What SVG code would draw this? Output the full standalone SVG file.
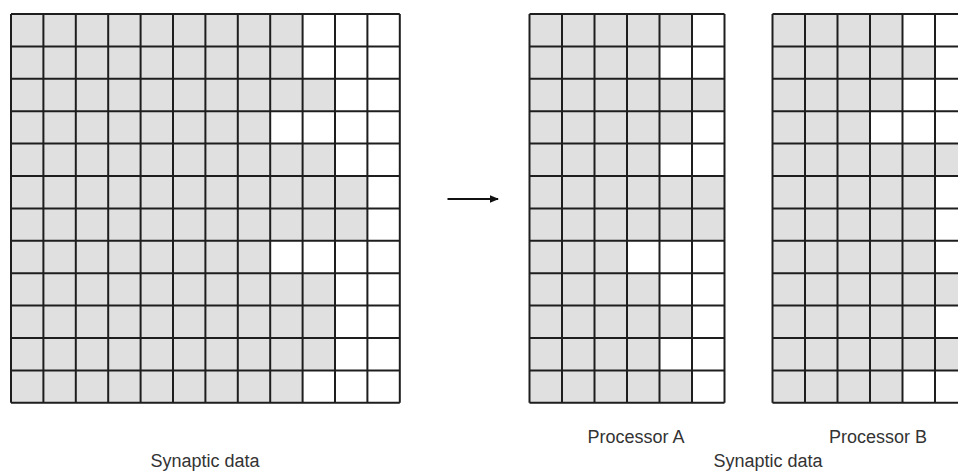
<svg xmlns="http://www.w3.org/2000/svg" width="958" height="472" viewBox="0 0 958 472">
  <style>
    .bg { fill: #ffffff; }
    .on { fill: #e0e0e0; }
    .off { fill: #ffffff; }
    .grid { fill: none; stroke: #1e1e1e; stroke-width: 2; }
    .label { font-family: "Liberation Sans", Arial, sans-serif; font-size: 18px; fill: #333333; text-anchor: middle; }
    .conn { stroke: #111111; stroke-width: 1.8; fill: none; }
  </style>
  <defs>
    <marker id="arrowhead" markerWidth="9" markerHeight="9" refX="8" refY="4.5" orient="auto" markerUnits="userSpaceOnUse">
      <path d="M0,0.8 L9,4.5 L0,8.2 Z" fill="#111111"/>
    </marker>
  </defs>

  <rect class="bg" x="0" y="0" width="958" height="472"/>

  <!-- Full synaptic matrix: 12 x 12 cells -->
  <g id="matrix-full" transform="translate(11,14)">
    <rect class="on" x="0" y="0" width="388.8" height="388.8"/>
    <rect class="off" x="291.6" y="0" width="97.2" height="64.8"/>
    <rect class="off" x="324" y="64.8" width="64.8" height="32.4"/>
    <rect class="off" x="259.2" y="97.2" width="129.6" height="32.4"/>
    <rect class="off" x="324" y="129.6" width="64.8" height="32.4"/>
    <rect class="off" x="356.4" y="162" width="32.4" height="64.8"/>
    <rect class="off" x="259.2" y="226.8" width="129.6" height="32.4"/>
    <rect class="off" x="324" y="259.2" width="64.8" height="97.2"/>
    <rect class="off" x="291.6" y="356.4" width="97.2" height="32.4"/>
    <path class="grid" d="M0,0V388.8 M32.4,0V388.8 M64.8,0V388.8 M97.2,0V388.8 M129.6,0V388.8 M162,0V388.8 M194.4,0V388.8 M226.8,0V388.8 M259.2,0V388.8 M291.6,0V388.8 M324,0V388.8 M356.4,0V388.8 M388.8,0V388.8
      M0,0H388.8 M0,32.4H388.8 M0,64.8H388.8 M0,97.2H388.8 M0,129.6H388.8 M0,162H388.8 M0,194.4H388.8 M0,226.8H388.8 M0,259.2H388.8 M0,291.6H388.8 M0,324H388.8 M0,356.4H388.8 M0,388.8H388.8"/>
  </g>

  <!-- Processor A partition: 12 x 6 cells -->
  <g id="processor-a" transform="translate(529.5,14)">
    <rect class="on" x="0" y="0" width="195" height="388.8"/>
    <rect class="off" x="162.5" y="0" width="32.5" height="32.4"/>
    <rect class="off" x="130" y="32.4" width="65" height="32.4"/>
    <rect class="off" x="162.5" y="97.2" width="32.5" height="32.4"/>
    <rect class="off" x="130" y="129.6" width="65" height="32.4"/>
    <rect class="off" x="97.5" y="226.8" width="97.5" height="32.4"/>
    <rect class="off" x="130" y="259.2" width="65" height="32.4"/>
    <rect class="off" x="162.5" y="291.6" width="32.5" height="32.4"/>
    <rect class="off" x="130" y="324" width="65" height="32.4"/>
    <rect class="off" x="162.5" y="356.4" width="32.5" height="32.4"/>
    <path class="grid" d="M0,0V388.8 M32.5,0V388.8 M65,0V388.8 M97.5,0V388.8 M130,0V388.8 M162.5,0V388.8 M195,0V388.8
      M0,0H195 M0,32.4H195 M0,64.8H195 M0,97.2H195 M0,129.6H195 M0,162H195 M0,194.4H195 M0,226.8H195 M0,259.2H195 M0,291.6H195 M0,324H195 M0,356.4H195 M0,388.8H195"/>
    <text class="label" x="106.5" y="429">Processor A</text>
  </g>

  <!-- Processor B partition: 12 x 6 cells -->
  <g id="processor-b" transform="translate(772.5,14)">
    <rect class="on" x="0" y="0" width="195" height="388.8"/>
    <rect class="off" x="130" y="0" width="65" height="32.4"/>
    <rect class="off" x="162.5" y="32.4" width="32.5" height="32.4"/>
    <rect class="off" x="130" y="64.8" width="65" height="32.4"/>
    <rect class="off" x="97.5" y="97.2" width="97.5" height="32.4"/>
    <rect class="off" x="162.5" y="162" width="32.5" height="97.2"/>
    <rect class="off" x="162.5" y="291.6" width="32.5" height="32.4"/>
    <rect class="off" x="130" y="356.4" width="65" height="32.4"/>
    <path class="grid" d="M0,0V388.8 M32.5,0V388.8 M65,0V388.8 M97.5,0V388.8 M130,0V388.8 M162.5,0V388.8 M195,0V388.8
      M0,0H195 M0,32.4H195 M0,64.8H195 M0,97.2H195 M0,129.6H195 M0,162H195 M0,194.4H195 M0,226.8H195 M0,259.2H195 M0,291.6H195 M0,324H195 M0,356.4H195 M0,388.8H195"/>
    <text class="label" x="105.5" y="429">Processor B</text>
  </g>

  <!-- Captions -->
  <g id="caption-left">
    <text class="label" x="205" y="467">Synaptic data</text>
  </g>
  <g id="caption-right">
    <text class="label" x="768" y="467">Synaptic data</text>
  </g>

  <!-- Connectors -->
  <g id="connectors">
    <line class="conn" x1="447.5" y1="199" x2="498" y2="199" marker-end="url(#arrowhead)"/>
  </g>
</svg>
